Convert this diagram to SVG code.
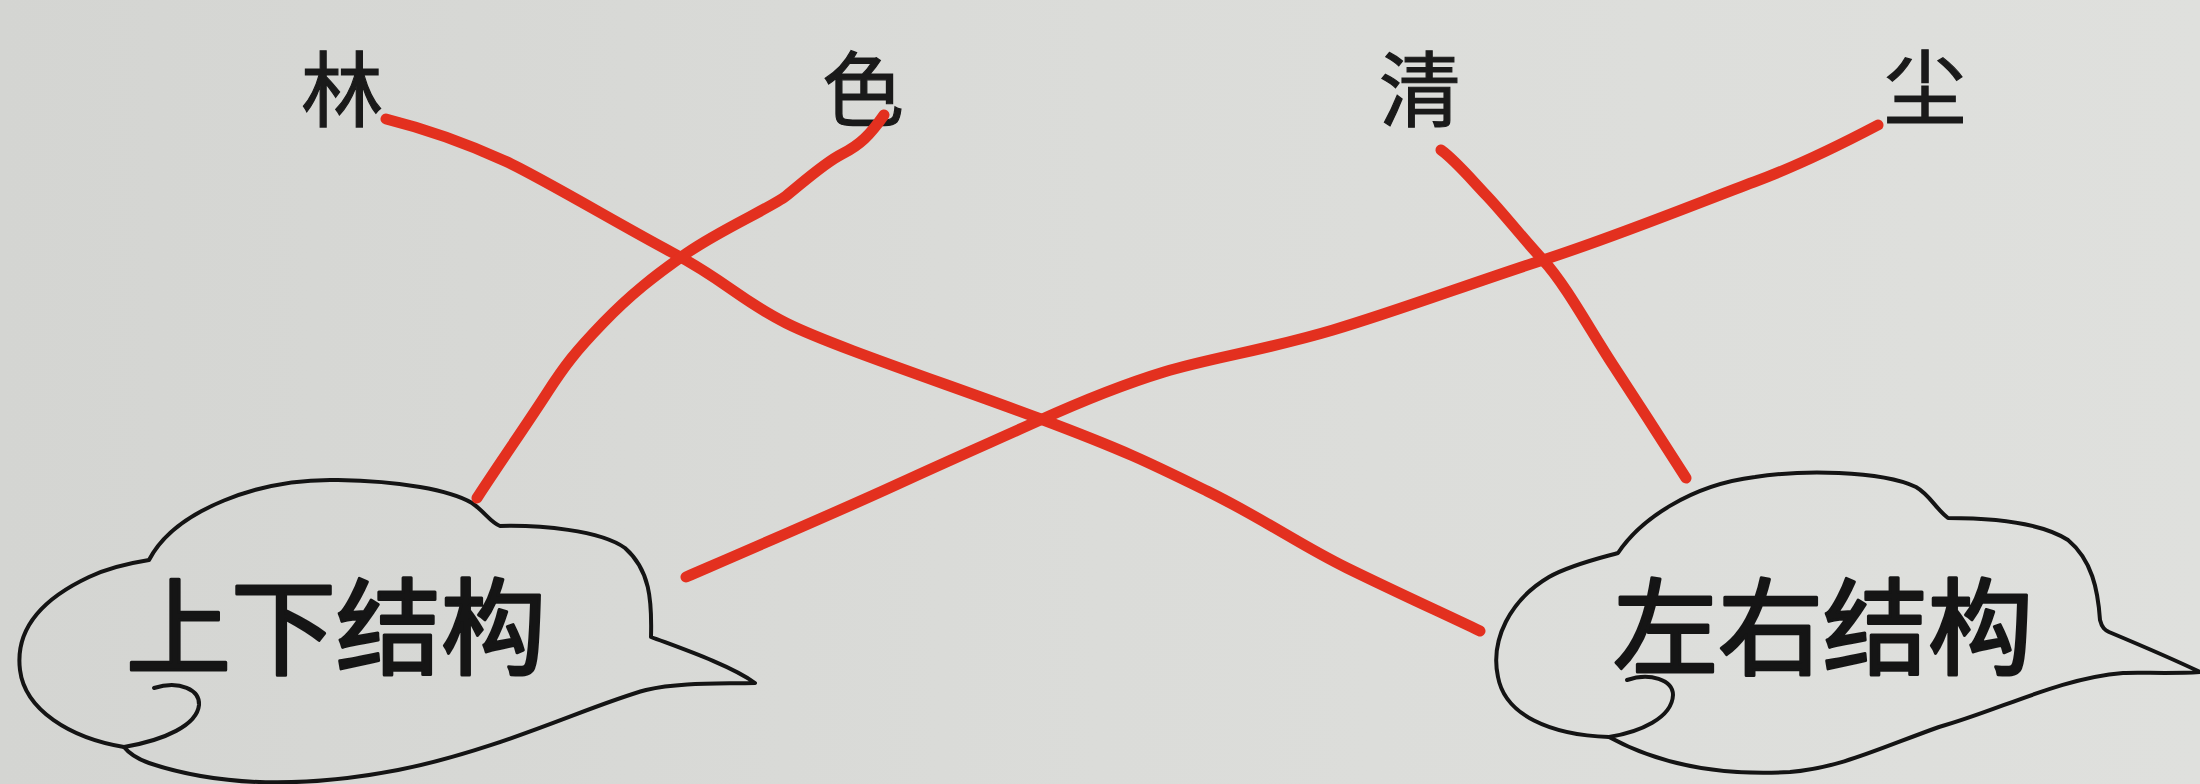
<svg xmlns="http://www.w3.org/2000/svg" width="2200" height="784" viewBox="0 0 2200 784">
  <defs>
    <linearGradient id="paper" x1="0" y1="0" x2="1" y2="0">
      <stop offset="0" stop-color="#d4d5d2"/>
      <stop offset="0.5" stop-color="#dbdcd9"/>
      <stop offset="1" stop-color="#dfe0dd"/>
    </linearGradient>
  </defs>
  <style>
    .lbl { font-family: "Noto Sans CJK SC", "Noto Sans CJK TC", sans-serif; font-size: 82px; font-weight: 400; fill: #1a1a1a; stroke: #1a1a1a; stroke-width: 1.2; text-anchor: middle; }
    .ctext { font-family: "Noto Sans CJK SC", "Noto Sans CJK TC", sans-serif; font-size: 105px; font-weight: 400; fill: #151515; stroke: #151515; stroke-width: 3; stroke-linejoin: round; }
    .cloud { fill: none; stroke: #141414; stroke-width: 4; stroke-linejoin: round; stroke-linecap: round; }
    .link { fill: none; stroke: #e3301f; stroke-width: 11; stroke-linecap: round; stroke-linejoin: round; }
  </style>
  <rect x="0" y="0" width="2200" height="784" fill="url(#paper)"/>

  <g id="label-lin"><text class="lbl" x="342" y="120">林</text></g>
  <g id="label-se"><text class="lbl" x="863" y="120">色</text></g>
  <g id="label-qing"><text class="lbl" x="1420" y="120">清</text></g>
  <g id="label-chen"><text class="lbl" x="1925" y="118">尘</text></g>

  <g id="cloud-left">
    <path class="cloud" d="M149,560 C175,510 260,478 338,480 C400,481 450,490 472,503 C485,512 490,522 500,526 C540,525 600,530 625,548 C650,570 652,600 651,637 C680,648 730,665 755,683 C720,684 680,682 646,690 C590,705 500,750 398,770 C320,785 230,790 149,763 C135,758 128,752 124,747 C70,738 25,710 20,670 C15,630 40,600 89,577 C110,567 130,563 149,560 Z"/>
    <path class="cloud" d="M154,688 C180,680 200,690 199,705 C197,725 165,740 124,747"/>
    <text class="ctext" x="126" y="666">上下结构</text>
  </g>

  <g id="cloud-right">
    <path class="cloud" d="M1618,553 C1640,520 1690,485 1755,477 C1800,470 1880,470 1916,487 C1930,495 1935,508 1948,518 C1990,518 2040,522 2068,540 C2092,560 2098,590 2100,620 C2102,628 2105,630 2109,632 C2140,645 2175,660 2200,672 C2170,674 2140,672 2123,673 C2060,678 2000,710 1939,727 C1880,748 1840,768 1790,772 C1720,776 1660,765 1609,737 C1550,735 1505,715 1498,677 C1490,640 1510,600 1549,577 C1570,565 1600,558 1618,553 Z"/>
    <path class="cloud" d="M1627,680 C1650,672 1673,680 1673,695 C1672,718 1640,732 1609,737"/>
    <text class="ctext" x="1613" y="666">左右结构</text>
  </g>

  <g id="connectors">
    <path class="link" d="M386,119 C430,130 470,145 505,161 S620,225 673,253 S740,300 786,323 S950,385 1038,418 S1150,463 1207,491 S1300,545 1347,568 S1440,612 1480,631"/>
    <path class="link" d="M884,115 C870,135 860,145 842,154 S800,185 786,196 S720,230 687,253 S630,295 603,323 S565,365 547,393 S495,470 477,498"/>
    <path class="link" d="M1441,150 C1455,160 1470,178 1487,196 S1520,235 1543,260 S1590,330 1613,365 S1665,445 1686,478"/>
    <path class="link" d="M1878,125 C1840,145 1800,165 1754,182 S1620,235 1543,260 S1400,310 1333,330 S1210,358 1164,372 S1080,402 1038,421 S950,460 898,484 S760,545 686,577"/>
  </g>
</svg>
